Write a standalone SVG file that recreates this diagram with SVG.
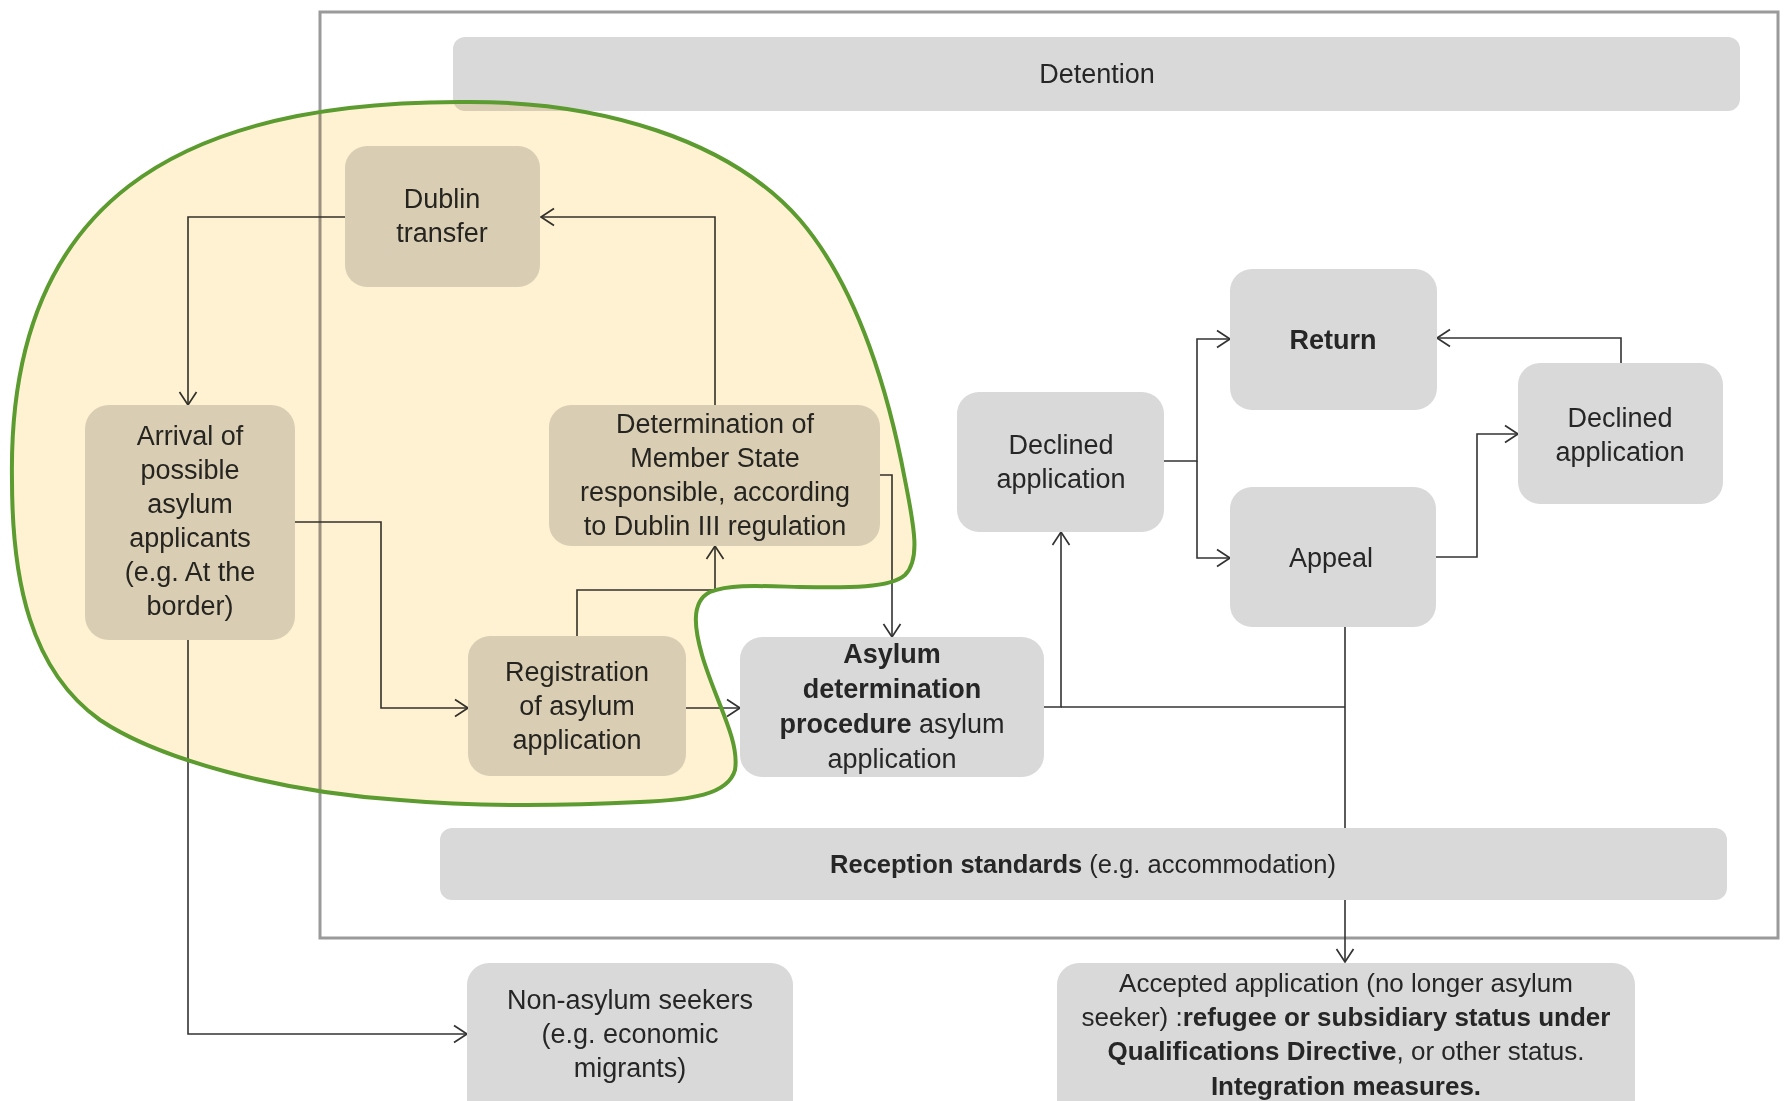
<svg xmlns="http://www.w3.org/2000/svg" width="1785" height="1101" viewBox="0 0 1785 1101">
<defs>
<marker id="ah" viewBox="-15 -10 17 20" refX="0" refY="0" markerWidth="17" markerHeight="20" markerUnits="userSpaceOnUse" orient="auto">
<path d="M-13,-8.5 L0,0 L-13,8.5" fill="none" stroke="#333" stroke-width="1.7"/>
</marker>
</defs>
<style>
.bg{fill:#ffffff}
.frame{fill:none;stroke:#9a9a9a;stroke-width:3}
.box{fill:#d9d9d9}
.t{font-family:"Liberation Sans",Arial,sans-serif;font-size:27px;fill:#262626;text-anchor:middle}
.b{font-weight:bold}
.c{fill:none;stroke:#333;stroke-width:1.6}
.ca{fill:none;stroke:#333;stroke-width:1.6;marker-end:url(#ah)}
</style>
<rect class="bg" x="0" y="0" width="1785" height="1101"/>
<rect class="frame" x="320" y="12" width="1458" height="926"/>

<g id="connectors">
<path class="ca" d="M345,217 H188 V405"/>
<path class="ca" d="M715,405 V217 H541"/>
<path class="ca" d="M295,522 H381 V708 H468"/>
<path class="ca" d="M577,636 V590 H715 V546"/>
<path class="ca" d="M686,708 H740"/>
<path class="ca" d="M880,475 H892 V637"/>
<path class="ca" d="M1044,707 H1061 V532"/>
<path class="c" d="M1061,707 H1345"/>
<path class="ca" d="M1345,627 V962"/>
<path class="ca" d="M1164,461 H1197 V339 H1230"/>
<path class="ca" d="M1197,461 V558 H1230"/>
<path class="ca" d="M1436,557 H1477 V434 H1518"/>
<path class="ca" d="M1621,363 V338 H1437"/>
<path class="ca" d="M188,640 V1034 H467"/>
</g>

<g id="detention">
<rect class="box" x="453" y="37" width="1287" height="74" rx="12"/>
<text class="t" x="1097" y="83">Detention</text>
</g>
<g id="reception">
<rect class="box" x="440" y="828" width="1287" height="72" rx="12"/>
<text class="t" x="1083" y="873" style="font-size:25.5px"><tspan class="b">Reception standards</tspan> (e.g. accommodation)</text>
</g>
<g id="dublin-transfer">
<rect class="box" x="345" y="146" width="195" height="141" rx="22"/>
<text class="t" x="442" y="208">Dublin</text>
<text class="t" x="442" y="242">transfer</text>
</g>
<g id="arrival">
<rect class="box" x="85" y="405" width="210" height="235" rx="24"/>
<text class="t" x="190" y="445">Arrival of</text>
<text class="t" x="190" y="479">possible</text>
<text class="t" x="190" y="513">asylum</text>
<text class="t" x="190" y="547">applicants</text>
<text class="t" x="190" y="581">(e.g. At the</text>
<text class="t" x="190" y="615">border)</text>
</g>
<g id="determination">
<rect class="box" x="549" y="405" width="331" height="141" rx="22"/>
<text class="t" x="715" y="433">Determination of</text>
<text class="t" x="715" y="467">Member State</text>
<text class="t" x="715" y="501">responsible, according</text>
<text class="t" x="715" y="535">to Dublin III regulation</text>
</g>
<g id="registration">
<rect class="box" x="468" y="636" width="218" height="140" rx="22"/>
<text class="t" x="577" y="681">Registration</text>
<text class="t" x="577" y="715">of asylum</text>
<text class="t" x="577" y="749">application</text>
</g>
<g id="asylum-determination">
<rect class="box" x="740" y="637" width="304" height="140" rx="22"/>
<text class="t b" x="892" y="663">Asylum</text>
<text class="t b" x="892" y="698">determination</text>
<text class="t" x="892" y="733"><tspan class="b">procedure</tspan> asylum</text>
<text class="t" x="892" y="768">application</text>
</g>
<g id="declined-application-1">
<rect class="box" x="957" y="392" width="207" height="140" rx="22"/>
<text class="t" x="1061" y="454">Declined</text>
<text class="t" x="1061" y="488">application</text>
</g>
<g id="return">
<rect class="box" x="1230" y="269" width="207" height="141" rx="22"/>
<text class="t b" x="1333" y="349">Return</text>
</g>
<g id="appeal">
<rect class="box" x="1230" y="487" width="206" height="140" rx="22"/>
<text class="t" x="1331" y="567">Appeal</text>
</g>
<g id="declined-application-2">
<rect class="box" x="1518" y="363" width="205" height="141" rx="22"/>
<text class="t" x="1620" y="427">Declined</text>
<text class="t" x="1620" y="461">application</text>
</g>
<g id="non-asylum-seekers">
<rect class="box" x="467" y="963" width="326" height="170" rx="22"/>
<text class="t" x="630" y="1009">Non-asylum seekers</text>
<text class="t" x="630" y="1043">(e.g. economic</text>
<text class="t" x="630" y="1077">migrants)</text>
</g>
<g id="accepted-application">
<rect class="box" x="1057" y="963" width="578" height="170" rx="22"/>
<text class="t" x="1346" y="992" style="font-size:26px">Accepted application (no longer asylum</text>
<text class="t" x="1346" y="1026" style="font-size:26px">seeker) :<tspan class="b">refugee or subsidiary status under</tspan></text>
<text class="t" x="1346" y="1060" style="font-size:26px"><tspan class="b">Qualifications Directive</tspan>, or other status.</text>
<text class="t b" x="1346" y="1095" style="font-size:26px">Integration measures.</text>
</g>

<g id="dublin-highlight">
<path style="mix-blend-mode:multiply" fill="#fff2d2" d="M459,102 C600,100 730,140 800,220 C860,290 890,400 905,480 C915,530 920,560 905,575 C890,588 850,588 800,587 C760,586 730,584 710,592 C690,602 695,630 702,655 C715,700 740,740 735,770 C728,795 690,800 640,802 C560,806 470,806 400,800 C280,792 160,760 100,720 C30,670 12,580 12,480 C7,200 180,102 459,102 Z"/>
<path fill="none" stroke="#5b9b2f" stroke-width="4" d="M459,102 C600,100 730,140 800,220 C860,290 890,400 905,480 C915,530 920,560 905,575 C890,588 850,588 800,587 C760,586 730,584 710,592 C690,602 695,630 702,655 C715,700 740,740 735,770 C728,795 690,800 640,802 C560,806 470,806 400,800 C280,792 160,760 100,720 C30,670 12,580 12,480 C7,200 180,102 459,102 Z"/>
</g>
</svg>
